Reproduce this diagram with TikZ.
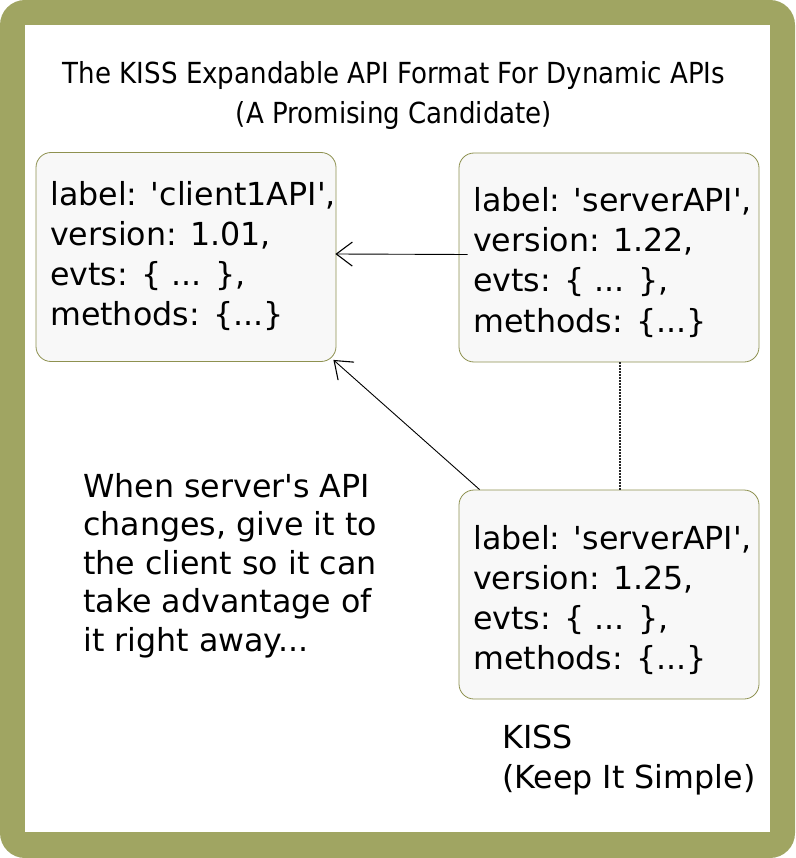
\documentclass[tikz,border=0pt]{standalone}
\usepackage{fontspec}
\setmainfont{DejaVu Sans}
\newfontfamily\condfont[FakeStretch=0.9]{DejaVu Sans}
\usetikzlibrary{arrows.meta}
\definecolor{olive1}{HTML}{A0A562}
\definecolor{boxline}{HTML}{8E9150}
\definecolor{boxfill}{HTML}{F8F8F8}
\newcommand\sq{\textquotesingle}
\begin{document}
\begin{tikzpicture}[x=1pt,y=-1pt,
  apibox/.style={draw=boxline, fill=boxfill, line width=0.8pt, rounded corners=15pt,
    minimum width=300pt, minimum height=209pt, inner sep=0pt},
  btext/.style={anchor=base west, inner sep=0pt, font=\fontsize{31.7}{40}\selectfont},
  sidetext/.style={anchor=base west, inner sep=0pt, font=\fontsize{31.7}{38.5}\selectfont},
  titletext/.style={anchor=base, inner sep=0pt, font=\condfont\fontsize{29}{40}\selectfont},
  arr/.style={-{Straight Barb[length=16pt,width=24pt,line width=1.1pt]}, line width=0.9pt},
  dotline/.style={line width=1.6pt, dash pattern=on 1.6pt off 1.4pt, black!85}]
\useasboundingbox (0,0) rectangle (795,858);
\fill[olive1, rounded corners=25pt] (0,0) rectangle (795,858);
\fill[white] (25,25) rectangle (770,832);

\node[titletext] (title) at (394,84) {\begin{tabular}[t]{@{}c@{}}The KISS Expandable API Format For Dynamic APIs\\(A Promising Candidate)\end{tabular}};

\node[apibox] (c) at (186,257) {};
\node[apibox] (s1) at (609,257.5) {};
\node[apibox] (s2) at (609,594.5) {};

\node[btext] (ct) at (50,206) {\begin{tabular}[t]{@{}l@{}}label: \sq client1API\sq,\\version: 1.01,\\evts: \{ ... \},\\methods: \{...\}\end{tabular}};
\node[btext] (s1t) at (473,212) {\begin{tabular}[t]{@{}l@{}}label: \sq serverAPI\sq,\\version: 1.22,\\evts: \{ ... \},\\methods: \{...\}\end{tabular}};
\node[btext] (s2t) at (473,549) {\begin{tabular}[t]{@{}l@{}}label: \sq serverAPI\sq,\\version: 1.25,\\evts: \{ ... \},\\methods: \{...\}\end{tabular}};

\node[sidetext] (note) at (83,497) {\begin{tabular}[t]{@{}l@{}}When server\sq s API\\changes, give it to\\the client so it can\\take advantage of\\it right away...\end{tabular}};
\node[btext] (kiss) at (502,748) {\begin{tabular}[t]{@{}l@{}}KISS\\(Keep It Simple)\end{tabular}};

\draw[arr] ([shift={(9pt,3pt)}]s1.west) -- ([shift={(-1pt,3pt)}]c.east);
\draw[arr] ([xshift=21pt]s2.north west) -- ([shift={(-3pt,2pt)}]c.south east);
\draw[dotline] ([xshift=11pt]s1.south) -- ([xshift=11pt]s2.north);
\end{tikzpicture}
\end{document}
